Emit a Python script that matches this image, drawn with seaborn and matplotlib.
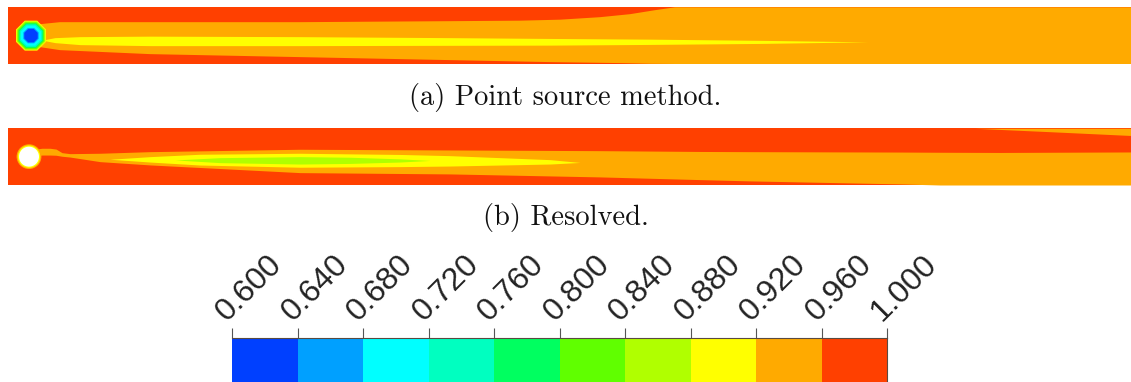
import numpy as np
import matplotlib
matplotlib.use("Agg")
import matplotlib.pyplot as plt
from matplotlib.colors import ListedColormap
from matplotlib.patches import Circle, RegularPolygon
import seaborn as sns

# Contour levels of the normalised streamwise velocity and their fill colours
levels = [0.600, 0.640, 0.680, 0.720, 0.760, 0.800, 0.840, 0.880, 0.920, 0.960, 1.000]
level_colors = ["#0040ff", "#00a0ff", "#00ffff", "#00ffc0", "#00ff60",
                "#60ff00", "#b0ff00", "#ffff00", "#ffaa00", "#ff4000"]
tick_labels = [f"{v:.3f}" for v in levels]
captions = ["(a) Point source method.", "(b) Resolved."]

# Domain extent (in cylinder diameters)
x_min, x_max = -1.125, 55.05
y_half = 1.42

# (a) point source: edges of the 0.92-0.96 wake band
a_top_x = [0.0, 0.5, 1.5, 6.0, 13.5, 21.0, 24.5, 26.5, 28.5, 30.0, 31.25, 32.25, 55.05]
a_top_y = [0.55, 0.575, 0.675, 0.675, 0.675, 0.725, 0.75, 0.80, 0.925, 1.075, 1.275, 1.42, 1.42]
a_bot_x = [0.0, 0.5, 1.5, 6.0, 13.5, 21.0, 26.0, 29.5, 31.0, 32.25, 55.05]
a_bot_y = [-0.55, -0.575, -0.725, -0.925, -1.075, -1.225, -1.325, -1.375, -1.41, -1.42, -1.42]
# (a) 0.88-0.92 core
a_core_x = [0.6, 1.25, 2.5, 6.0, 13.5, 21.0, 26.0, 31.0, 36.5, 41.9]
a_core_hi = [-0.225, -0.10, -0.05, -0.025, -0.05, -0.10, -0.14, -0.175, -0.235, -0.31]
a_core_lo = [-0.225, -0.35, -0.45, -0.50, -0.50, -0.485, -0.475, -0.44, -0.39, -0.31]
# (a) rings around the source (apothem of each level's octagon, outer to inner)
a_ring_level = [7, 6, 5, 4, 3, 2, 1, 0]
a_ring_size = [0.75, 0.715, 0.665, 0.615, 0.565, 0.50, 0.385, 0.335]

# (b) resolved cylinder: edges of the 0.92-0.96 wake band
b_x = [0.3, 0.6, 1.0, 1.3, 1.6, 2.0, 3.5, 6.0, 13.5, 21.0, 28.5, 33.5, 36.0, 43.5, 45.5, 48.5, 55.05]
b_hi = [0.38, 0.42, 0.42, 0.38, 0.20, 0.15, 0.17, 0.25, 0.37, 0.335, 0.30, 0.26, 0.25, 0.23, 0.22, 0.21, 0.235]
b_lo = [0.05, 0.08, 0.08, 0.07, 0.02, -0.02, -0.25, -0.415, -0.8, -0.865, -1.015, -1.15, -1.215, -1.365, -1.42, -1.42, -1.42]
# (b) 0.92-0.96 band along the upper boundary near the outlet
b_edge_x = [47.25, 51.0, 55.05]
b_edge_y = [1.42, 1.25, 1.06]
# (b) 0.88-0.92 core and 0.84-0.88 core
b_core_x = [4.0, 6.0, 8.5, 13.5, 18.5, 21.0, 23.5, 26.0, 27.5]
b_core_hi = [-0.13, 0.0, 0.12, 0.17, 0.11, 0.05, -0.05, -0.15, -0.29]
b_core_lo = [-0.13, -0.27, -0.42, -0.53, -0.50, -0.47, -0.42, -0.37, -0.29]
b_lime_x = [7.25, 9.5, 13.5, 16.0, 18.5, 20.0]
b_lime_hi = [-0.165, -0.05, 0.0, -0.03, -0.11, -0.19]
b_lime_lo = [-0.165, -0.30, -0.37, -0.34, -0.27, -0.19]
# (b) cylinder outline bands (radius, level index) and body radius
b_ring_level = [8, 7]
b_ring_size = [0.62, 0.56]
body_radius = 0.5

sns.set_theme(style="white")
plt.rcParams["font.family"] = ["Liberation Sans", "DejaVu Sans"]

RED, ORANGE, YELLOW, LIME = level_colors[9], level_colors[8], level_colors[7], level_colors[6]

fig = plt.figure(figsize=(11.31, 3.82), dpi=100)
W, H = 1131.0, 382.0


def panel(top_px, bottom_px):
    ax = fig.add_axes([7.5 / W, 1 - bottom_px / H, 1 - 7.5 / W, (bottom_px - top_px) / H])
    ax.set_xlim(x_min, x_max)
    ax.set_ylim(-y_half, y_half)
    ax.set_xticks([])
    ax.set_yticks([])
    sns.despine(ax=ax, left=True, bottom=True)
    return ax


# ---- (a) point source method ----
ax_a = panel(7.3, 64.0)
ax_a.set_facecolor(RED)
wake_x = a_top_x + a_bot_x[::-1]
wake_y = a_top_y + a_bot_y[::-1]
ax_a.fill(wake_x, wake_y, color=ORANGE, lw=0)
ax_a.fill_between(a_core_x, a_core_lo, a_core_hi, color=YELLOW, lw=0)
for lvl, apo in zip(a_ring_level, a_ring_size):
    ax_a.add_patch(RegularPolygon((0.05, 0.0), numVertices=8,
                                  radius=apo / np.cos(np.pi / 8),
                                  orientation=np.pi / 8,
                                  facecolor=level_colors[lvl], lw=0))

# ---- (b) resolved cylinder ----
ax_b = panel(128.3, 185.0)
ax_b.set_facecolor(RED)
ax_b.fill_between(b_x, b_lo, b_hi, color=ORANGE, lw=0)
ax_b.fill_between(b_edge_x, b_edge_y, y_half, color=ORANGE, lw=0)
ax_b.fill_between(b_core_x, b_core_lo, b_core_hi, color=YELLOW, lw=0)
ax_b.fill_between(b_lime_x, b_lime_lo, b_lime_hi, color=LIME, lw=0)
for lvl, r in zip(b_ring_level, b_ring_size):
    ax_b.add_patch(Circle((-0.05, 0.0), r, facecolor=level_colors[lvl], lw=0))
ax_b.add_patch(Circle((-0.05, 0.0), body_radius, facecolor="white", lw=0))

# ---- captions ----
for text, y_px in zip(captions, [97, 218]):
    fig.text(0.5, 1 - y_px / H, text, ha="center", va="center",
             fontsize=20.5, family="cmr10", color="#111111")

# ---- discrete colour bar drawn as a one-row heatmap ----
mids = [[(lo + hi) / 2 for lo, hi in zip(levels[:-1], levels[1:])]]
cax = fig.add_axes([232 / W, -0.2, (887 - 232) / W, 0.2 + 44 / H])
sns.heatmap(mids, ax=cax, cmap=ListedColormap(level_colors),
            vmin=levels[0], vmax=levels[-1], cbar=False)
cax.set_yticks([])
cax.xaxis.tick_top()
cax.set_xticks(np.arange(len(levels)))
cax.set_xticklabels(tick_labels, rotation=45, ha="left", va="bottom",
                    rotation_mode="anchor", fontsize=23, color="#222222")
cax.tick_params(axis="x", top=True, bottom=False, length=7, width=0.8,
                color="#555555", pad=1)
for side in ["top", "right"]:
    cax.spines[side].set_visible(True)
    cax.spines[side].set_color("#5a4a40")
    cax.spines[side].set_linewidth(0.8)

fig.savefig("out.png", dpi=100)
